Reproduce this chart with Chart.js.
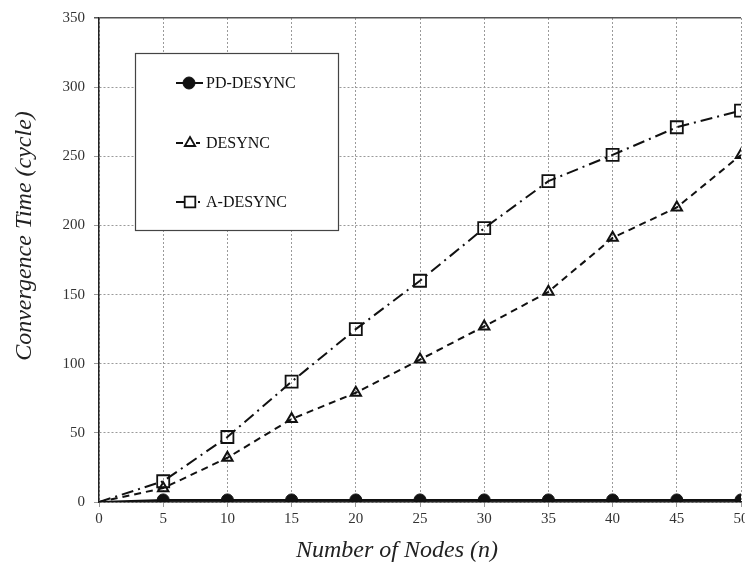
<!DOCTYPE html>
<html>
<head>
<meta charset="utf-8">
<script src="https://cdn.jsdelivr.net/npm/chart.js@4"></script>
<style>
  html, body { margin: 0; padding: 0; background: #fff; overflow: hidden; }
  #wrap { position: absolute; left: 0; top: 0; width: 780px; height: 565px; }
</style>
</head>
<body>
<div id="wrap"><canvas id="c" width="780" height="565"></canvas></div>
<script>
// ---- data ----
const nodes = [0, 5, 10, 15, 20, 25, 30, 35, 40, 45, 50];
const pdDesync = [0, 1.5, 1.5, 1.5, 1.5, 1.5, 1.5, 1.5, 1.5, 1.5, 1.5];
const desync = [0, 10, 32, 60, 79, 103, 127, 152, 191, 213, 251];
const aDesync = [0, 15, 47, 87, 125, 160, 198, 232, 251, 271, 283];
const seriesLabels = ['PD-DESYNC', 'DESYNC', 'A-DESYNC'];
const xTicks = [0, 5, 10, 15, 20, 25, 30, 35, 40, 45, 50];
const yTicks = [0, 50, 100, 150, 200, 250, 300, 350];
const xTitle = 'Number of Nodes (n)';
const yTitle = 'Convergence Time (cycle)';

const toXY = (ys) => nodes.map((x, i) => ({ x: x, y: ys[i] }));
const hideFirst = (r) => (ctx) => (ctx.dataIndex === 0 ? 0 : r);

const SERIF = '"Liberation Serif", "Times New Roman", serif';
const INK = '#111';

const datasets = [
  {
    label: seriesLabels[0], data: toXY(pdDesync),
    borderColor: INK, backgroundColor: INK, borderWidth: 2,
    pointStyle: 'circle', pointRadius: hideFirst(6), pointBackgroundColor: INK,
    pointBorderColor: INK, pointBorderWidth: 1, borderDash: [], tension: 0
  },
  {
    label: seriesLabels[1], data: toXY(desync),
    borderColor: INK, backgroundColor: 'rgba(0,0,0,0)', borderWidth: 2,
    pointStyle: 'triangle', pointRadius: hideFirst(6), pointBackgroundColor: 'rgba(0,0,0,0)',
    pointBorderColor: INK, pointBorderWidth: 2, borderDash: [7, 5], tension: 0
  },
  {
    label: seriesLabels[2], data: toXY(aDesync),
    borderColor: INK, backgroundColor: 'rgba(0,0,0,0)', borderWidth: 2,
    pointStyle: 'rect', pointRadius: hideFirst(8.5), pointBackgroundColor: 'rgba(0,0,0,0)',
    pointBorderColor: INK, pointBorderWidth: 1.8, borderDash: [12, 5, 2, 5], tension: 0
  }
];

// custom legend box drawn inside the plot, plus axis titles placed like the reference
const decor = {
  id: 'decor',
  afterDraw(chart) {
    const ctx = chart.ctx;
    ctx.save();
    // legend box
    ctx.fillStyle = '#fff';
    ctx.fillRect(135, 53, 204, 178);
    ctx.strokeStyle = '#444';
    ctx.lineWidth = 1.2;
    ctx.setLineDash([]);
    ctx.strokeRect(135.5, 53.5, 203, 177);
    const rows = [83, 143, 202];
    chart.data.datasets.forEach((ds, i) => {
      const y = rows[i];
      ctx.save();
      ctx.strokeStyle = INK;
      ctx.lineWidth = 2;
      if (i === 0) {
        ctx.beginPath(); ctx.moveTo(176, y); ctx.lineTo(203, y); ctx.stroke();
      } else if (i === 1) {
        ctx.beginPath(); ctx.moveTo(176, y); ctx.lineTo(183, y); ctx.stroke();
        ctx.beginPath(); ctx.moveTo(196, y); ctx.lineTo(200, y); ctx.stroke();
      } else {
        ctx.beginPath(); ctx.moveTo(176, y); ctx.lineTo(185, y); ctx.stroke();
        ctx.beginPath(); ctx.moveTo(198, y); ctx.lineTo(200, y); ctx.stroke();
      }
      ctx.restore();
      ctx.save();
      ctx.strokeStyle = INK;
      ctx.fillStyle = i === 0 ? INK : 'rgba(0,0,0,0)';
      ctx.lineWidth = i === 0 ? 1 : 1.8;
      ctx.setLineDash([]);
      Chart.helpers.drawPoint(ctx, {
        pointStyle: ds.pointStyle,
        radius: i === 2 ? 7.5 : 6,
        borderWidth: i === 0 ? 1 : 1.8,
        rotation: 0
      }, i === 0 ? 189 : 190, y);
      ctx.restore();
      ctx.fillStyle = INK;
      ctx.font = '16px ' + SERIF;
      ctx.textBaseline = 'middle';
      ctx.textAlign = 'left';
      ctx.fillText(ds.label, 206, y + 1);
    });
    // axis titles
    ctx.fillStyle = '#222';
    ctx.font = 'italic 24px ' + SERIF;
    ctx.textAlign = 'center';
    ctx.textBaseline = 'middle';
    ctx.fillText(xTitle, 397, 551);
    ctx.save();
    ctx.translate(25, 236);
    ctx.rotate(-Math.PI / 2);
    ctx.fillText(yTitle, 0, 0);
    ctx.restore();
    ctx.restore();
  }
};

new Chart(document.getElementById('c'), {
  type: 'line',
  data: { datasets: datasets },
  options: {
    responsive: false,
    animation: false,
    events: [],
    layout: { padding: { top: 14, right: 39, bottom: 0, left: 0 } },
    plugins: { legend: { display: false }, tooltip: { enabled: false }, title: { display: false } },
    scales: {
      x: {
        type: 'linear', min: 0, max: 50,
        afterBuildTicks: (s) => { s.ticks = xTicks.map(v => ({ value: v })); },
        afterFit: (s) => { s.height = 63; },
        grid: { color: '#9a9a9a', lineWidth: 1, drawTicks: true, tickLength: 5, tickColor: '#9a9a9a' },
        border: { display: true, color: '#222', width: 1.5, dash: [2, 2] },
        ticks: { color: '#333', font: { family: SERIF, size: 15 }, padding: 3, maxRotation: 0, autoSkip: false }
      },
      y: {
        type: 'linear', min: 0, max: 350,
        afterBuildTicks: (s) => { s.ticks = yTicks.map(v => ({ value: v })); },
        afterFit: (s) => { s.width = 99; },
        grid: {
          color: (c) => (c.tick && c.tick.value === 350 ? '#555' : '#9a9a9a'),
          lineWidth: (c) => (c.tick && c.tick.value === 350 ? 1.5 : 1),
          drawTicks: true, tickLength: 5,
          tickColor: (c) => (c.tick && c.tick.value === 350 ? '#555' : '#9a9a9a')
        },
        border: {
          display: true, color: '#222', width: 1.5,
          dash: (c) => (c.tick && c.tick.value === 350 ? [] : [2, 2])
        },
        ticks: { color: '#333', font: { family: SERIF, size: 15 }, padding: 9 }
      }
    }
  },
  plugins: [decor]
});
</script>
</body>
</html>
